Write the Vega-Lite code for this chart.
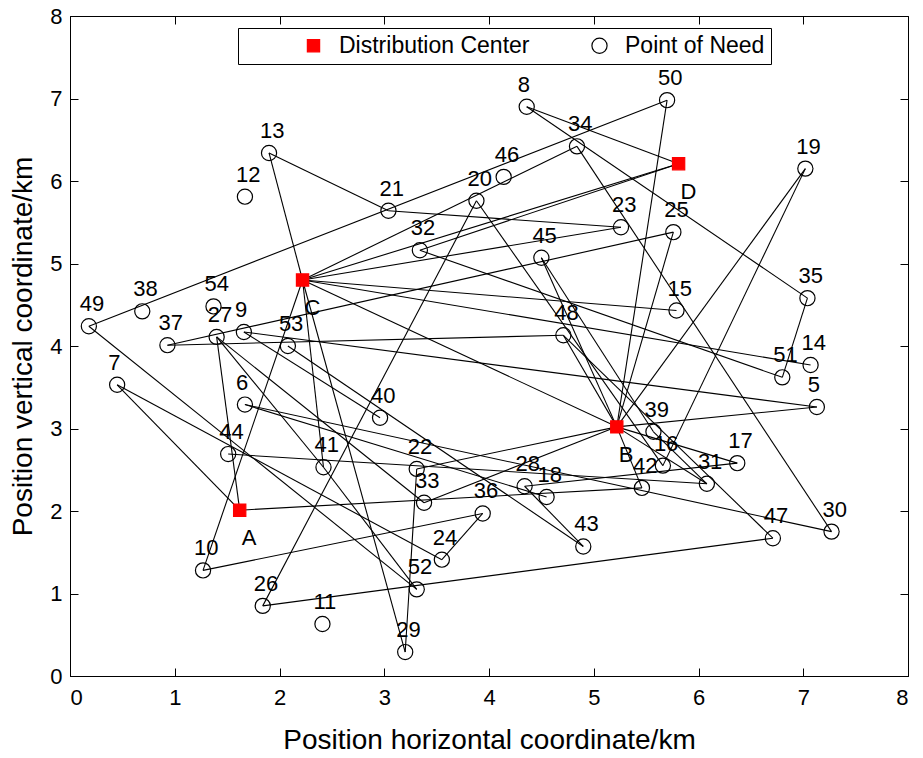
{
  "$schema": "https://vega.github.io/schema/vega-lite/v6.json",
  "width": 838,
  "height": 660,
  "padding": {"left": 70, "top": 16, "right": 15, "bottom": 82},
  "autosize": {"type": "none"},
  "background": "white",
  "config": {
    "view": {"stroke": "black", "strokeWidth": 1},
    "font": "Liberation Sans",
    "axis": {
      "grid": false,
      "domainColor": "black",
      "tickColor": "black",
      "labelColor": "black",
      "titleColor": "black",
      "labelFontSize": 22,
      "titleFontSize": 28,
      "titleFontWeight": "normal",
      "tickSize": -8,
      "labelPadding": 16
    }
  },
  "datasets": {
    "nodes": [
      {"name": "A", "x": 1.62, "y": 2.01, "type": "Distribution Center"},
      {"name": "B", "x": 5.22, "y": 3.02, "type": "Distribution Center"},
      {"name": "C", "x": 2.22, "y": 4.80, "type": "Distribution Center"},
      {"name": "D", "x": 5.81, "y": 6.21, "type": "Distribution Center"},
      {"name": "5", "x": 7.13, "y": 3.26, "type": "Point of Need"},
      {"name": "6", "x": 1.67, "y": 3.29, "type": "Point of Need"},
      {"name": "7", "x": 0.45, "y": 3.53, "type": "Point of Need"},
      {"name": "8", "x": 4.36, "y": 6.90, "type": "Point of Need"},
      {"name": "9", "x": 1.66, "y": 4.17, "type": "Point of Need"},
      {"name": "10", "x": 1.27, "y": 1.28, "type": "Point of Need"},
      {"name": "11", "x": 2.41, "y": 0.63, "type": "Point of Need"},
      {"name": "12", "x": 1.67, "y": 5.81, "type": "Point of Need"},
      {"name": "13", "x": 1.90, "y": 6.34, "type": "Point of Need"},
      {"name": "14", "x": 7.07, "y": 3.77, "type": "Point of Need"},
      {"name": "15", "x": 5.79, "y": 4.43, "type": "Point of Need"},
      {"name": "16", "x": 5.66, "y": 2.55, "type": "Point of Need"},
      {"name": "17", "x": 6.37, "y": 2.58, "type": "Point of Need"},
      {"name": "18", "x": 4.55, "y": 2.17, "type": "Point of Need"},
      {"name": "19", "x": 7.02, "y": 6.15, "type": "Point of Need"},
      {"name": "20", "x": 3.88, "y": 5.76, "type": "Point of Need"},
      {"name": "21", "x": 3.04, "y": 5.64, "type": "Point of Need"},
      {"name": "22", "x": 3.31, "y": 2.51, "type": "Point of Need"},
      {"name": "23", "x": 5.26, "y": 5.44, "type": "Point of Need"},
      {"name": "24", "x": 3.55, "y": 1.41, "type": "Point of Need"},
      {"name": "25", "x": 5.76, "y": 5.38, "type": "Point of Need"},
      {"name": "26", "x": 1.84, "y": 0.85, "type": "Point of Need"},
      {"name": "27", "x": 1.40, "y": 4.11, "type": "Point of Need"},
      {"name": "28", "x": 4.34, "y": 2.30, "type": "Point of Need"},
      {"name": "29", "x": 3.20, "y": 0.29, "type": "Point of Need"},
      {"name": "30", "x": 7.27, "y": 1.75, "type": "Point of Need"},
      {"name": "31", "x": 6.08, "y": 2.33, "type": "Point of Need"},
      {"name": "32", "x": 3.34, "y": 5.16, "type": "Point of Need"},
      {"name": "33", "x": 3.38, "y": 2.10, "type": "Point of Need"},
      {"name": "34", "x": 4.84, "y": 6.42, "type": "Point of Need"},
      {"name": "35", "x": 7.04, "y": 4.58, "type": "Point of Need"},
      {"name": "36", "x": 3.94, "y": 1.97, "type": "Point of Need"},
      {"name": "37", "x": 0.93, "y": 4.01, "type": "Point of Need"},
      {"name": "38", "x": 0.69, "y": 4.42, "type": "Point of Need"},
      {"name": "39", "x": 5.57, "y": 2.96, "type": "Point of Need"},
      {"name": "40", "x": 2.96, "y": 3.13, "type": "Point of Need"},
      {"name": "41", "x": 2.42, "y": 2.53, "type": "Point of Need"},
      {"name": "42", "x": 5.46, "y": 2.28, "type": "Point of Need"},
      {"name": "43", "x": 4.90, "y": 1.57, "type": "Point of Need"},
      {"name": "44", "x": 1.51, "y": 2.69, "type": "Point of Need"},
      {"name": "45", "x": 4.50, "y": 5.07, "type": "Point of Need"},
      {"name": "46", "x": 4.14, "y": 6.05, "type": "Point of Need"},
      {"name": "47", "x": 6.71, "y": 1.67, "type": "Point of Need"},
      {"name": "48", "x": 4.71, "y": 4.13, "type": "Point of Need"},
      {"name": "49", "x": 0.18, "y": 4.24, "type": "Point of Need"},
      {"name": "50", "x": 5.70, "y": 6.98, "type": "Point of Need"},
      {"name": "51", "x": 6.80, "y": 3.62, "type": "Point of Need"},
      {"name": "52", "x": 3.31, "y": 1.05, "type": "Point of Need"},
      {"name": "53", "x": 2.08, "y": 4.00, "type": "Point of Need"},
      {"name": "54", "x": 1.37, "y": 4.48, "type": "Point of Need"}
    ],
    "edges": [
      {"from": "C", "to": "13"}, {"from": "13", "to": "21"}, {"from": "21", "to": "23"},
      {"from": "23", "to": "C"}, {"from": "C", "to": "34"}, {"from": "C", "to": "D"},
      {"from": "D", "to": "32"}, {"from": "8", "to": "D"}, {"from": "8", "to": "35"},
      {"from": "35", "to": "51"}, {"from": "32", "to": "51"}, {"from": "C", "to": "15"},
      {"from": "C", "to": "14"}, {"from": "C", "to": "B"}, {"from": "C", "to": "10"},
      {"from": "C", "to": "41"}, {"from": "C", "to": "29"}, {"from": "49", "to": "50"},
      {"from": "50", "to": "B"}, {"from": "49", "to": "52"}, {"from": "41", "to": "52"},
      {"from": "27", "to": "41"},
      {"from": "7", "to": "A"}, {"from": "7", "to": "24"}, {"from": "36", "to": "24"},
      {"from": "10", "to": "36"}, {"from": "26", "to": "20"}, {"from": "26", "to": "47"},
      {"from": "27", "to": "A"}, {"from": "27", "to": "33"}, {"from": "33", "to": "B"},
      {"from": "37", "to": "25"}, {"from": "37", "to": "48"}, {"from": "9", "to": "5"},
      {"from": "5", "to": "B"}, {"from": "9", "to": "40"}, {"from": "53", "to": "43"},
      {"from": "28", "to": "43"}, {"from": "28", "to": "17"}, {"from": "6", "to": "30"},
      {"from": "6", "to": "18"}, {"from": "A", "to": "42"}, {"from": "44", "to": "31"},
      {"from": "29", "to": "22"}, {"from": "22", "to": "B"}, {"from": "45", "to": "B"},
      {"from": "45", "to": "39"}, {"from": "48", "to": "B"}, {"from": "48", "to": "47"},
      {"from": "39", "to": "31"}, {"from": "34", "to": "30"}, {"from": "25", "to": "B"},
      {"from": "19", "to": "B"}, {"from": "19", "to": "16"}, {"from": "B", "to": "31"},
      {"from": "B", "to": "42"}, {"from": "B", "to": "17"}, {"from": "20", "to": "16"}
    ]
  },
  "layer": [
    {
      "data": {"name": "edges"},
      "transform": [
        {"lookup": "from", "from": {"data": {"name": "nodes"}, "key": "name", "fields": ["x", "y"]}, "as": ["x", "y"]},
        {"lookup": "to", "from": {"data": {"name": "nodes"}, "key": "name", "fields": ["x", "y"]}, "as": ["x2", "y2"]}
      ],
      "mark": {"type": "rule", "color": "black", "strokeWidth": 1.1},
      "encoding": {
        "x": {"field": "x", "type": "quantitative", "scale": {"domain": [0, 8], "nice": false, "zero": false},
              "axis": {"orient": "bottom", "values": [0, 1, 2, 3, 4, 5, 6, 7, 8], "title": "Position horizontal coordinate/km", "titlePadding": 18, "labelPadding": 19}},
        "y": {"field": "y", "type": "quantitative", "scale": {"domain": [0, 8], "nice": false, "zero": false},
              "axis": {"orient": "left", "values": [0, 1, 2, 3, 4, 5, 6, 7, 8], "title": "Position vertical coordinate/km", "titlePadding": 12}},
        "x2": {"field": "x2"},
        "y2": {"field": "y2"}
      }
    },
    {
      "data": {"name": "nodes"},
      "mark": {"type": "point", "strokeWidth": 1.2, "opacity": 1},
      "encoding": {
        "x": {"field": "x", "type": "quantitative",
              "axis": {"orient": "top", "values": [0, 1, 2, 3, 4, 5, 6, 7, 8], "labels": false, "title": null, "domain": false}},
        "y": {"field": "y", "type": "quantitative",
              "axis": {"orient": "right", "values": [0, 1, 2, 3, 4, 5, 6, 7, 8], "labels": false, "title": null, "domain": false}},
        "shape": {"field": "type", "type": "nominal", "title": null,
                  "scale": {"domain": ["Distribution Center", "Point of Need"], "range": ["square", "circle"]},
                  "legend": {"orient": "none", "legendX": 168, "legendY": 12, "direction": "horizontal", "title": null,
                             "strokeColor": "black", "fillColor": "white", "padding": 6, "labelFontSize": 23, "labelLimit": 400,
                             "symbolStrokeWidth": 1.2, "labelOffset": 14, "columnPadding": -43, "symbolOffset": 58}},
        "fill": {"field": "type", "type": "nominal", "title": null,
                 "scale": {"domain": ["Distribution Center", "Point of Need"], "range": ["#ff0000", "transparent"]}},
        "stroke": {"field": "type", "type": "nominal", "title": null,
                   "scale": {"domain": ["Distribution Center", "Point of Need"], "range": ["#ff0000", "black"]}},
        "size": {"field": "type", "type": "nominal", "title": null,
                 "scale": {"domain": ["Distribution Center", "Point of Need"], "range": [150, 230]}}
      }
    },
    {
      "data": {"name": "nodes"},
      "transform": [{"filter": "datum.type === 'Point of Need'"}],
      "mark": {"type": "text", "align": "left", "baseline": "alphabetic", "dx": -9, "dy": -15, "fontSize": 22, "color": "black"},
      "encoding": {
        "x": {"field": "x", "type": "quantitative", "axis": null},
        "y": {"field": "y", "type": "quantitative", "axis": null},
        "text": {"field": "name"}
      }
    },
    {
      "data": {"name": "nodes"},
      "transform": [{"filter": "datum.type === 'Distribution Center'"}],
      "mark": {"type": "text", "align": "left", "baseline": "alphabetic", "dx": 2, "dy": 35, "fontSize": 22, "color": "black"},
      "encoding": {
        "x": {"field": "x", "type": "quantitative", "axis": null},
        "y": {"field": "y", "type": "quantitative", "axis": null},
        "text": {"field": "name"}
      }
    }
  ],
  "resolve": {"axis": {"x": "independent", "y": "independent"}}
}
